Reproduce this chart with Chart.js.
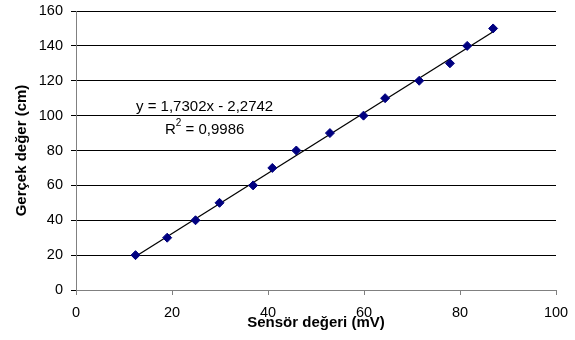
<!DOCTYPE html>
<html>
<head>
<meta charset="utf-8">
<script src="https://cdn.jsdelivr.net/npm/chart.js@4"></script>
<style>
  html, body { margin: 0; padding: 0; background: #fff; }
  #wrap { width: 575px; height: 340px; position: relative; }
</style>
</head>
<body>
<div id="wrap"><canvas id="kalibrasyon"></canvas></div>
<script>
// olcum verileri
const sensorValues = [12.4, 19, 24.9, 29.9, 36.9, 40.9, 45.9, 52.9, 59.9, 64.4, 71.5, 77.9, 81.5, 86.9];
const realValues = [20, 30, 40, 50, 60, 70, 80, 90, 100, 110, 120, 130, 140, 150];
const xTicks = [0, 20, 40, 60, 80, 100];
const yTicks = [0, 20, 40, 60, 80, 100, 120, 140, 160];
const slope = 1.7302;
const intercept = -2.2742;
const eqText = 'y = 1,7302x - 2,2742';
const r2Text = '= 0,9986';

const points = sensorValues.map((x, i) => ({ x: x, y: realValues[i] }));
const xMin = Math.min(...sensorValues);
const xMax = Math.max(...sensorValues);
const trend = [
    { x: xMin, y: slope * xMin + intercept },
    { x: xMax, y: slope * xMax + intercept }
];

const FONT = '"Liberation Sans", Arial, sans-serif';
const TICK_SIZE = 14.5;

// denklem yazisi
const equationLabel = {
    id: 'equationLabel',
    afterDatasetsDraw(chart) {
        const ctx = chart.ctx;
        ctx.save();
        ctx.fillStyle = '#000';
        ctx.font = '15px ' + FONT;
        ctx.textBaseline = 'middle';
        ctx.textAlign = 'left';
        ctx.fillText(eqText, 136, 107);
        ctx.fillText('R', 165, 130);
        const rw = ctx.measureText('R').width;
        ctx.font = '10px ' + FONT;
        ctx.fillText('2', 165 + rw, 123);
        const sw = ctx.measureText('2').width;
        ctx.font = '15px ' + FONT;
        ctx.fillText(' ' + r2Text, 165 + rw + sw, 130);
        ctx.restore();
    }
};

new Chart(document.getElementById('kalibrasyon').getContext('2d'), {
    type: 'scatter',
    data: {
        datasets: [
            {
                label: 'Ölçüm',
                data: points,
                pointStyle: 'rectRot',
                radius: 4.5,
                hoverRadius: 4.5,
                backgroundColor: '#000080',
                borderColor: '#000080',
                borderWidth: 1,
                order: 1
            },
            {
                label: 'Doğrusal',
                type: 'line',
                data: trend,
                borderColor: '#000',
                borderWidth: 1.3,
                pointRadius: 0,
                fill: false,
                order: 2
            }
        ]
    },
    options: {
        responsive: true,
        maintainAspectRatio: false,
        animation: false,
        layout: { padding: { top: 11, right: 19, left: 0, bottom: 0 } },
        plugins: {
            legend: { display: false },
            tooltip: { enabled: false }
        },
        scales: {
            x: {
                type: 'linear',
                min: 0,
                max: 100,
                afterBuildTicks: s => { s.ticks = xTicks.map(v => ({ value: v })); },
                afterFit: s => { s.height = 50; s.paddingLeft = 0; s.paddingRight = 0; },
                grid: { drawOnChartArea: false, drawTicks: true, tickLength: 5, color: '#808080' },
                border: { display: true, color: '#808080', width: 1 },
                ticks: { color: '#000', font: { family: FONT, size: TICK_SIZE }, padding: 9, maxRotation: 0 },
                title: {
                    display: true,
                    text: 'Sensör değeri (mV)',
                    color: '#000',
                    font: { family: FONT, size: 15, weight: 'bold' },
                    padding: { top: 0, bottom: 8 }
                }
            },
            y: {
                type: 'linear',
                min: 0,
                max: 160,
                afterBuildTicks: s => { s.ticks = yTicks.map(v => ({ value: v })); },
                afterFit: s => { s.width = 76; s.paddingTop = 0; s.paddingBottom = 0; },
                grid: { color: '#000', lineWidth: 1, drawTicks: true, tickLength: 5 },
                border: { display: true, color: '#808080', width: 1 },
                ticks: { color: '#000', font: { family: FONT, size: TICK_SIZE }, padding: 8 },
                title: {
                    display: true,
                    text: 'Gerçek değer (cm)',
                    color: '#000',
                    font: { family: FONT, size: 15, weight: 'bold' },
                    padding: { top: 13, bottom: 0 }
                }
            }
        }
    },
    plugins: [equationLabel]
});
</script>
</body>
</html>
